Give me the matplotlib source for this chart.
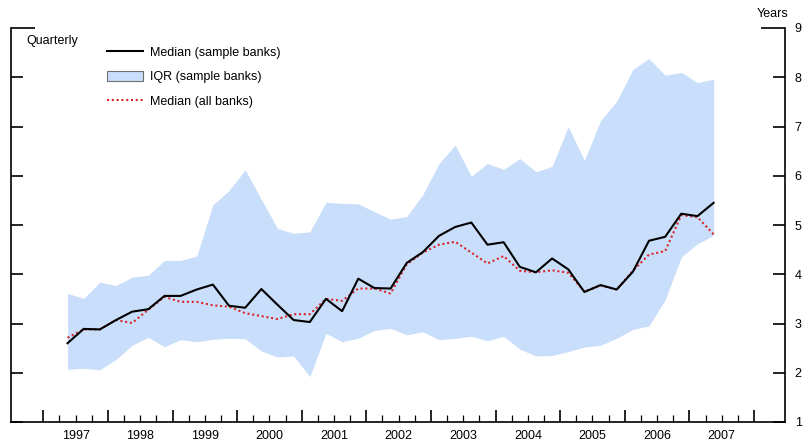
import numpy as np
import pandas as pd
import matplotlib
matplotlib.use("Agg")
import matplotlib.pyplot as plt
from matplotlib.patches import Patch
from matplotlib.lines import Line2D
from matplotlib.ticker import FixedLocator, FuncFormatter, NullFormatter

plt.rcParams['font.family'] = ['Liberation Sans', 'DejaVu Sans']

# quarterly observations, 1997Q2 .. 2007Q2
quarters = pd.period_range('1997Q2', '2007Q2', freq='Q')

median_sample = [2.60, 2.89, 2.88, 3.07, 3.24, 3.29, 3.56, 3.56, 3.69, 3.79,
                 3.36, 3.32, 3.70, 3.38, 3.07, 3.03, 3.50, 3.25, 3.91, 3.72,
                 3.71, 4.23, 4.45, 4.78, 4.96, 5.05, 4.60, 4.65, 4.15, 4.04,
                 4.32, 4.10, 3.64, 3.78, 3.69, 4.05, 4.68, 4.76, 5.23, 5.18,
                 5.45]
median_all = [2.71, 2.88, 2.88, 3.07, 3.01, 3.28, 3.54, 3.44, 3.44, 3.37,
              3.34, 3.21, 3.15, 3.09, 3.19, 3.19, 3.50, 3.46, 3.71, 3.71,
              3.61, 4.20, 4.44, 4.60, 4.66, 4.44, 4.22, 4.37, 4.07, 4.04,
              4.08, 4.03, 3.65, 3.77, 3.69, 4.07, 4.40, 4.47, 5.20, 5.16,
              4.81]
iqr_high = [3.61, 3.51, 3.84, 3.77, 3.94, 3.98, 4.28, 4.28, 4.37, 5.41,
            5.70, 6.12, 5.52, 4.93, 4.83, 4.86, 5.46, 5.44, 5.43, 5.27,
            5.12, 5.17, 5.62, 6.25, 6.62, 5.99, 6.25, 6.13, 6.35, 6.08,
            6.19, 7.00, 6.31, 7.12, 7.51, 8.16, 8.38, 8.04, 8.10, 7.89,
            7.96]
iqr_low = [2.07, 2.09, 2.06, 2.27, 2.56, 2.72, 2.53, 2.67, 2.63, 2.68,
           2.70, 2.69, 2.44, 2.32, 2.34, 1.92, 2.80, 2.63, 2.70, 2.86,
           2.90, 2.77, 2.83, 2.67, 2.70, 2.74, 2.65, 2.74, 2.48, 2.34,
           2.35, 2.43, 2.52, 2.56, 2.70, 2.88, 2.95, 3.48, 4.35, 4.62,
           4.79]

years = list(range(1997, 2008))
y_ticks = list(range(1, 10))

# place each quarter at its midpoint on a fractional-year axis
x = np.array([q.year + (q.quarter - 0.5) / 4 for q in quarters])

fig = plt.figure(figsize=(8.05, 4.43), dpi=100)
ax = fig.add_axes([11 / 805, 21 / 443, 774 / 805, 394 / 443])

band_color = '#c9defa'
ax.fill_between(x, iqr_low, iqr_high, color=band_color, lw=0, zorder=1)
ax.plot(x, median_all, color='#d8262c', lw=1.5, ls=(0, (1, 1.3)), zorder=2)
ax.plot(x, median_sample, color='black', lw=1.5, zorder=3)

ax.set_xlim(1996.5, 2008.48)
ax.set_ylim(1, 9)

ax.spines['top'].set_visible(False)
for side in ['left', 'right', 'bottom']:
    ax.spines[side].set_linewidth(1.2)

# x axis: year boundaries as major ticks, quarters as minor, year names mid-year
ax.xaxis.set_major_locator(FixedLocator(years + [2008]))
ax.xaxis.set_major_formatter(NullFormatter())
quarter_ticks = [yr + q / 4 for yr in years for q in (1, 2, 3)]
ax.xaxis.set_minor_locator(FixedLocator(quarter_ticks))
ax.xaxis.set_minor_formatter(FuncFormatter(
    lambda v, pos: str(int(v)) if abs(v - int(v) - 0.5) < 1e-6 else ''))
ax.tick_params(axis='x', which='major', direction='in', length=8.6, width=1.2)
ax.tick_params(axis='x', which='minor', direction='in', length=5, width=0.9,
               labelsize=9, pad=6)

# y axis: ticks on both sides, labels on the right only
ax.yaxis.set_major_locator(FixedLocator(y_ticks))
ax.tick_params(axis='y', which='major', direction='in', length=8.6, width=1.2,
               left=True, right=True, labelleft=False, labelright=True,
               labelsize=9, pad=7)
top_tick = ax.yaxis.get_major_ticks()[-1]
top_tick.tick1line.set_markersize(17)
top_tick.tick2line.set_markersize(17)

ax.text(0.0194, 0.966, 'Quarterly', transform=ax.transAxes, fontsize=9,
        ha='left', va='center')
ax.text(0.9845, 1.0355, 'Years', transform=ax.transAxes, fontsize=9,
        ha='center', va='center')

handles = [
    Line2D([], [], color='black', lw=1.5),
    Patch(facecolor=band_color, edgecolor='#707070', lw=0.8),
    Line2D([], [], color='#d8262c', lw=1.5, ls=(0, (1, 1.3))),
]
labels = ['Median (sample banks)', 'IQR (sample banks)', 'Median (all banks)']
ax.legend(handles, labels, loc='upper left', bbox_to_anchor=(0.124, 0.953),
          frameon=False, fontsize=9, handlelength=2.9, handleheight=0.9,
          handletextpad=0.55, labelspacing=0.95, borderpad=0, borderaxespad=0)

fig.savefig('out.png', dpi=100)
